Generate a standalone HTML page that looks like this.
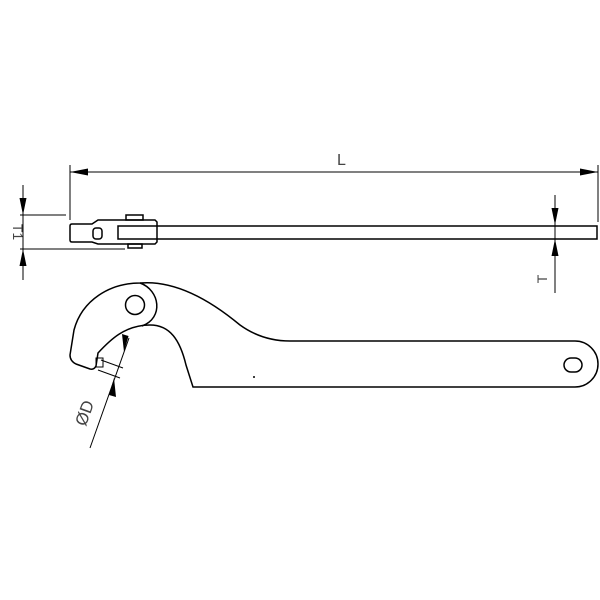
<!DOCTYPE html>
<html><head><style>body{margin:0;background:#fff}svg{display:block}</style></head><body>
<svg width="600" height="600" viewBox="0 0 600 600" xmlns="http://www.w3.org/2000/svg" font-family="Liberation Sans, sans-serif">
<g fill="none" stroke="#000" stroke-width="1">
<line x1="70" y1="165" x2="70" y2="220"/>
<line x1="598" y1="165" x2="598" y2="222"/>
<line x1="70" y1="172" x2="598" y2="172"/>
<line x1="20" y1="215" x2="66" y2="215"/>
<line x1="20" y1="249" x2="125" y2="249"/>
<line x1="23" y1="185" x2="23" y2="280"/>
<line x1="555" y1="195" x2="555" y2="293"/>
<line x1="90" y1="448" x2="129" y2="338"/>
<line x1="101" y1="360" x2="123" y2="368"/>
<line x1="98" y1="370" x2="120" y2="378"/>
</g>
<g fill="#000">
<polygon points="70,172 88,168.5 88,175.5"/>
<polygon points="598,172 580,168.5 580,175.5"/>
<polygon points="23,215 19.5,198 26.5,198"/>
<polygon points="23,249 19.5,266 26.5,266"/>
<polygon points="555,225 551.5,208 558.5,208"/>
<polygon points="555,239 551.5,256 558.5,256"/>
<polygon points="124,352 122,334 128.5,336"/>
<polygon points="114,378 109,395 116,397"/>
</g>
<g fill="none" stroke="#000" stroke-width="1.5">
<rect x="118" y="226" width="479" height="13"/>
<path d="M72,224 L92,224 L98,220 L155,220 L157,222 L157,242 L155,244 L98,244 L92,242 L72,242 Q70,242 70,240 L70,226 Q70,224 72,224 Z"/>
<rect x="93" y="228" width="9" height="11" rx="3"/>
<rect x="126" y="215" width="17" height="5"/>
<rect x="128" y="244" width="14" height="4"/>
<path d="M140,283 C175,280 210,300 240,325 C258,338 275,341 290,341 L575,341 A23,23 0 0 1 575,387 L193,387 L186,365 C180,340 170,325 150,325 C125,325 110,340 98,353 L96,366 Q94,370 90,369 L76,364 Q70,361 70,355 L74,330 C82,300 110,283 140,283 Z"/>
<path d="M140,283 C160,290 164,318 142,326"/>
<circle cx="135" cy="305" r="9.5"/>
<rect x="96" y="358" width="7" height="9" stroke-width="1"/>
<rect x="564" y="358" width="18" height="14" rx="7"/>
</g>
<circle cx="254" cy="377" r="1" fill="#000"/>
<g fill="#444" font-size="16">
<text x="337" y="165">L</text>
<text transform="translate(13,232) rotate(90)" text-anchor="middle" font-size="14">T1</text>
<text transform="translate(547,279) rotate(-90)" text-anchor="middle" font-size="14">T</text>
<text transform="translate(90,415) rotate(-70)" text-anchor="middle" font-size="17">ØD</text>
</g>
</svg>
</body></html>
